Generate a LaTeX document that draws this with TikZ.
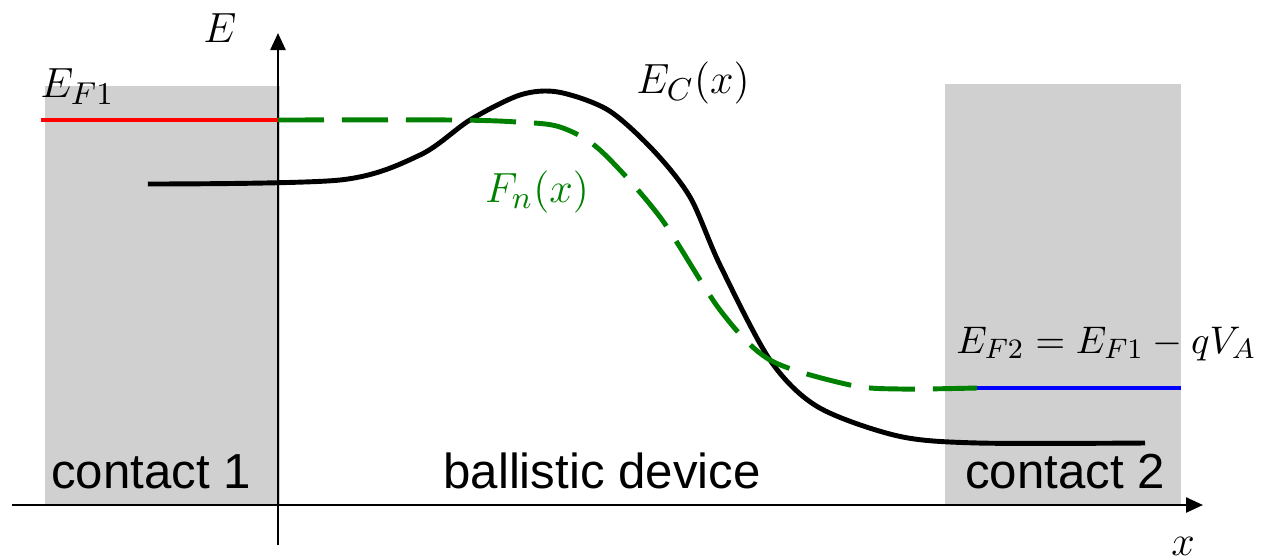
\documentclass[tikz,border=0pt]{standalone}
\usepackage{fontspec}
\setsansfont{Liberation Sans}
\usepackage{xcolor}
\definecolor{contactgray}{RGB}{208,208,208}
\definecolor{fermigreen}{RGB}{0,128,0}
\definecolor{levelred}{RGB}{255,0,0}
\definecolor{levelblue}{RGB}{0,0,255}
\usetikzlibrary{arrows.meta}

\begin{document}
\begin{tikzpicture}[
  band/.style={line width=1.4pt, line join=round},
  level/.style={line width=1.4pt},
  axis/.style={line width=0.7pt, -{Triangle[length=1.7mm,width=1.5mm]}},
  region/.style={font=\sffamily\fontsize{14}{16}\selectfont, anchor=base},
  lbl/.style={font=\fontsize{13}{15}\selectfont, anchor=base}
]
  \useasboundingbox (-2.78,-0.54) rectangle (9.83,5.05);
  % Contacts
  \fill[contactgray] (-2.33,0) rectangle (0.02,4.19);
  \fill[contactgray] (6.67,0) rectangle (9.03,4.21);
  % Axes
  \coordinate (xstart) at (-2.66,0);
  \coordinate (xend) at (9.25,0);
  \coordinate (ystart) at (0,-0.40);
  \coordinate (yend) at (0,4.72);
  \draw[axis] (xstart) -- (xend);
  \draw[axis] (ystart) -- (yend);
  % Fermi levels in the contacts
  \coordinate (ef1left) at (-2.37,3.85);
  \coordinate (ef1right) at (0,3.85);
  \coordinate (ef2left) at (6.67,1.17);
  \coordinate (ef2right) at (9.03,1.17);
  \draw[level, levelred] (ef1left) -- (ef1right);
  \draw[level, levelblue] (ef2left) -- (ef2right);
  % Conduction band
  \draw[band] plot[smooth, tension=0.5] coordinates {
    (-1.30,3.21) (0.62,3.25) (1.42,3.50) (1.92,3.85) (2.42,4.10) (2.80,4.13)
    (3.30,3.95) (3.75,3.55) (4.12,3.08) (4.42,2.40) (4.92,1.45)
    (5.40,0.98) (6.20,0.69) (7.00,0.62) (8.67,0.62)};
  % Quasi-Fermi level
  \draw[band, fermigreen, dash pattern=on 0.46cm off 0.18cm] plot[smooth, tension=0.5] coordinates {
    (0,3.85) (1.75,3.85) (2.39,3.83) (2.82,3.78) (3.22,3.55)
    (3.82,2.88) (4.42,1.95) (4.92,1.45)
    (5.72,1.20) (6.22,1.16) (6.99,1.17)};
  % Labels
  \node[lbl] (elabel) at (-0.58,4.63) {$E$};
  \node[lbl] (xlabel) at (9.05,-0.50) {$x$};
  \node[lbl, anchor=base west] (ef1label) at (-2.50,4.08) {$E_{F1}$};
  \node[lbl] (eclabel) at (4.15,4.12) {$E_C(x)$};
  \node[lbl, fermigreen] (fnlabel) at (2.59,3.03) {$F_n(x)$};
  \node[lbl, font=\fontsize{11}{13}\selectfont, anchor=base west] (ef2label) at (6.66,1.52) {$E_{F2} = E_{F1} - qV_A$};
  \node[region] (contact1) at (-1.27,0.17) {contact 1};
  \node[region] (device) at (3.24,0.17) {ballistic device};
  \node[region] (contact2) at (7.87,0.17) {contact 2};
\end{tikzpicture}
\end{document}
